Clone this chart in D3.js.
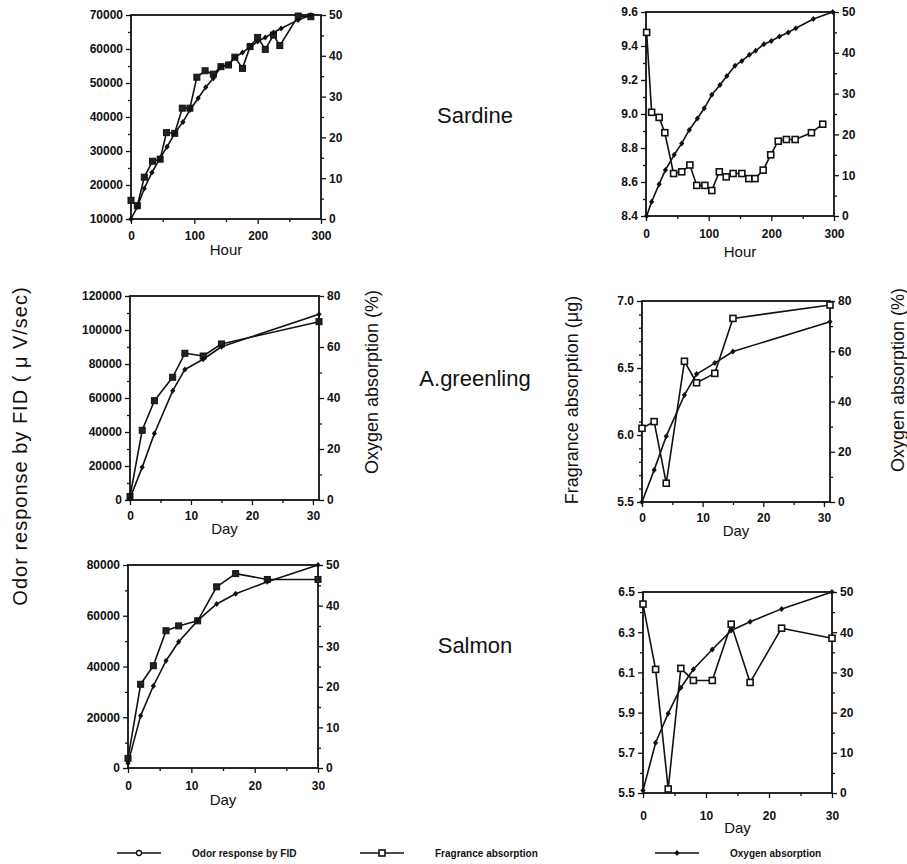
<!DOCTYPE html>
<html>
<head>
<meta charset="utf-8">
<script src="https://cdn.jsdelivr.net/npm/d3@7/dist/d3.min.js"></script>
<style>
  body { margin: 0; background: #fff; }
  svg { display: block; font-family: "Liberation Sans", Arial, Helvetica, sans-serif; }
  .tick text { font-weight: bold; font-size: 12px; fill: #111; }
  .tick line { stroke: #111; stroke-width: 1.3; }
  .domain { stroke: none; }
</style>
</head>
<body>
<svg id="chart" width="907" height="864"></svg>
<script>
// ---- data ----
// Sardine (hours)
var sardineOdorHour = [0, 10, 21, 34, 46, 56, 69, 81, 93, 104, 117, 130, 142, 154, 164, 176, 188, 200, 212, 225, 235, 264, 284];
var sardineOdor = [15500, 13900, 22300, 27000, 27600, 35400, 35200, 42600, 42600, 51700, 53600, 52600, 54800, 55300, 57600, 54300, 60700, 63400, 59900, 64100, 61000, 69700, 69500];
var sardineO2LeftHour = [0, 10, 21, 33, 46, 57, 69, 82, 93, 106, 118, 130, 142, 154, 164, 176, 188, 200, 212, 225, 237, 264, 284];
var sardineO2Left = [0, 3, 7.5, 11.4, 14.9, 17.7, 21, 23.8, 26.7, 29.6, 32.3, 34.5, 37.3, 37.9, 39.6, 40.8, 42.2, 43.5, 44.5, 45.7, 46.7, 48.8, 50];
var sardineFragHour = [1, 9, 21, 30, 44, 57, 70, 81, 94, 105, 117, 128, 139, 153, 164, 174, 187, 199, 211, 224, 238, 264, 282];
var sardineFrag = [9.48, 9.01, 8.98, 8.89, 8.65, 8.66, 8.70, 8.58, 8.58, 8.55, 8.66, 8.63, 8.65, 8.65, 8.62, 8.62, 8.67, 8.76, 8.84, 8.85, 8.85, 8.89, 8.94];
var sardineO2RightHour = [1, 9, 21, 31, 45, 57, 69, 82, 93, 105, 118, 129, 142, 153, 165, 175, 188, 200, 213, 227, 239, 267, 298];
var sardineO2Right = [0, 3.5, 7.8, 11.3, 15, 17.8, 21.1, 23.9, 26.4, 29.7, 32.1, 34.3, 36.8, 38, 39.5, 40.5, 42.1, 42.9, 44, 45, 46, 48.3, 50];

// A.greenling (days)
var greenlingDay = [0, 2, 4, 7, 9, 12, 15, 31];
var greenlingOdor = [2000, 41000, 58400, 72200, 86300, 84700, 91800, 104900];
var greenlingO2Left = [0.7, 12.8, 26.1, 42.8, 51.2, 55.2, 60.1, 72.8];
var greenlingFrag = [6.05, 6.10, 5.64, 6.55, 6.39, 6.46, 6.87, 6.97];
var greenlingO2Right = [0, 12.7, 26.2, 42.6, 50.9, 55.3, 59.9, 71.7];

// Salmon (days)
var salmonDay = [0, 2, 4, 6, 8, 11, 14, 17, 22, 30];
var salmonOdor = [3800, 33000, 40300, 54100, 56000, 58000, 71400, 76600, 74300, 74300];
var salmonO2Left = [1.2, 12.9, 20.2, 26.4, 31.1, 36.3, 40.4, 42.9, 45.9, 50];
var salmonFrag = [6.44, 6.115, 5.52, 6.12, 6.06, 6.06, 6.34, 6.05, 6.32, 6.27];
var salmonO2Right = [0.6, 12.5, 19.8, 26.2, 30.8, 35.7, 40.4, 42.6, 45.8, 50];

var fishNames = ["Sardine", "A.greenling", "Salmon"];
var legendLabels = ["Odor response by FID", "Fragrance absorption", "Oxygen absorption"];

// ---- layout ----
var svg = d3.select("#chart");

var panels = [
  { left: 131, right: 321, top: 15, bottom: 219, xDom: [0, 300], xMajor: [0, 100, 200, 300], xMinor: [50, 150, 250], xTitle: "Hour", labOff: 16, titleOff: 31,
    yDom: [10000, 70000], yMajor: d3.range(10000, 70001, 10000), yMinor: d3.range(15000, 70000, 10000), yFmt: d3.format("d"),
    rDom: [0, 50], rMajor: d3.range(0, 51, 10), rMinor: d3.range(5, 50, 10),
    series: [
      { x: sardineOdorHour, y: sardineOdor, axis: "l", mark: "odor" },
      { x: sardineO2LeftHour, y: sardineO2Left, axis: "r", mark: "oxy" }
    ] },
  { left: 646, right: 834, top: 12, bottom: 216, xDom: [0, 300], xMajor: [0, 100, 200, 300], xMinor: [50, 150, 250], xTitle: "Hour", labOff: 17, titleOff: 36,
    yDom: [8.4, 9.6], yMajor: [8.4, 8.6, 8.8, 9.0, 9.2, 9.4, 9.6], yMinor: [8.5, 8.7, 8.9, 9.1, 9.3, 9.5], yFmt: d3.format(".1f"),
    rDom: [0, 50], rMajor: d3.range(0, 51, 10), rMinor: d3.range(5, 50, 10),
    series: [
      { x: sardineFragHour, y: sardineFrag, axis: "l", mark: "frag" },
      { x: sardineO2RightHour, y: sardineO2Right, axis: "r", mark: "oxy" }
    ] },
  { left: 130, right: 319, top: 296, bottom: 500, xDom: [0, 31], xMajor: [0, 10, 20, 30], xMinor: [5, 15, 25], xTitle: "Day", labOff: 15, titleOff: 29,
    yDom: [0, 120000], yMajor: d3.range(0, 120001, 20000), yMinor: d3.range(10000, 120000, 20000), yFmt: d3.format("d"),
    rDom: [0, 80], rMajor: d3.range(0, 81, 20), rMinor: d3.range(10, 80, 20),
    series: [
      { x: greenlingDay, y: greenlingOdor, axis: "l", mark: "odor" },
      { x: greenlingDay, y: greenlingO2Left, axis: "r", mark: "oxy" }
    ] },
  { left: 642, right: 830, top: 301, bottom: 502, xDom: [0, 31], xMajor: [0, 10, 20, 30], xMinor: [5, 15, 25], xTitle: "Day", labOff: 15, titleOff: 29,
    yDom: [5.5, 7.0], yMajor: [5.5, 6.0, 6.5, 7.0], yMinor: [5.6, 5.7, 5.8, 5.9, 6.1, 6.2, 6.3, 6.4, 6.6, 6.7, 6.8, 6.9], yFmt: d3.format(".1f"),
    rDom: [0, 80], rMajor: d3.range(0, 81, 20), rMinor: d3.range(10, 80, 20),
    series: [
      { x: greenlingDay, y: greenlingFrag, axis: "l", mark: "frag" },
      { x: greenlingDay, y: greenlingO2Right, axis: "r", mark: "oxy" }
    ] },
  { left: 128, right: 318, top: 565, bottom: 768, xDom: [0, 30], xMajor: [0, 10, 20, 30], xMinor: [5, 15, 25], xTitle: "Day", labOff: 17, titleOff: 32,
    yDom: [0, 80000], yMajor: d3.range(0, 80001, 20000), yMinor: d3.range(10000, 80000, 20000), yFmt: d3.format("d"),
    rDom: [0, 50], rMajor: d3.range(0, 51, 10), rMinor: d3.range(5, 50, 10),
    series: [
      { x: salmonDay, y: salmonOdor, axis: "l", mark: "odor" },
      { x: salmonDay, y: salmonO2Left, axis: "r", mark: "oxy" }
    ] },
  { left: 643, right: 832, top: 592, bottom: 793, xDom: [0, 30], xMajor: [0, 10, 20, 30], xMinor: [5, 15, 25], xTitle: "Day", labOff: 22, titleOff: 35,
    yDom: [5.5, 6.5], yMajor: [5.5, 5.7, 5.9, 6.1, 6.3, 6.5], yMinor: [5.6, 5.8, 6.0, 6.2, 6.4], yFmt: d3.format(".1f"),
    rDom: [0, 50], rMajor: d3.range(0, 51, 10), rMinor: d3.range(5, 50, 10),
    series: [
      { x: salmonDay, y: salmonFrag, axis: "l", mark: "frag" },
      { x: salmonDay, y: salmonO2Right, axis: "r", mark: "oxy" }
    ] }
];

function drawMarker(sel, kind) {
  if (kind === "odor") {
    // scanned odor markers read as dark squares
    sel.append("rect").attr("x", -3).attr("y", -3).attr("width", 6).attr("height", 6)
      .attr("fill", "#222").attr("stroke", "#111").attr("stroke-width", 1);
  } else if (kind === "frag") {
    sel.append("rect").attr("x", -3).attr("y", -3).attr("width", 6).attr("height", 6)
      .attr("fill", "#fff").attr("stroke", "#111").attr("stroke-width", 1.6);
  } else {
    sel.append("path").attr("d", "M0,-3L2.6,0L0,3L-2.6,0Z").attr("fill", "#111");
  }
}

panels.forEach(function (p) {
  var x = d3.scaleLinear().domain(p.xDom).range([p.left, p.right]),
      yl = d3.scaleLinear().domain(p.yDom).range([p.bottom, p.top]),
      yr = d3.scaleLinear().domain(p.rDom).range([p.bottom, p.top]);

  var g = svg.append("g");

  // minor ticks
  g.append("g").attr("transform", "translate(0," + p.bottom + ")")
    .call(d3.axisBottom(x).tickValues(p.xMinor).tickSize(3).tickSizeOuter(0).tickFormat(""));
  g.append("g").attr("transform", "translate(" + p.left + ",0)")
    .call(d3.axisLeft(yl).tickValues(p.yMinor).tickSize(3).tickSizeOuter(0).tickFormat(""));
  g.append("g").attr("transform", "translate(" + p.right + ",0)")
    .call(d3.axisRight(yr).tickValues(p.rMinor).tickSize(3).tickSizeOuter(0).tickFormat(""));

  // major ticks + labels
  g.append("g").attr("transform", "translate(0," + p.bottom + ")")
    .call(d3.axisBottom(x).tickValues(p.xMajor).tickSize(5).tickSizeOuter(0).tickPadding(p.labOff - 9));
  g.append("g").attr("transform", "translate(" + p.left + ",0)")
    .call(d3.axisLeft(yl).tickValues(p.yMajor).tickFormat(p.yFmt).tickSize(5).tickSizeOuter(0).tickPadding(3));
  g.append("g").attr("transform", "translate(" + p.right + ",0)")
    .call(d3.axisRight(yr).tickValues(p.rMajor).tickFormat(d3.format("d")).tickSize(5).tickSizeOuter(0).tickPadding(3));

  // frame
  g.append("rect")
    .attr("x", p.left).attr("y", p.top)
    .attr("width", p.right - p.left).attr("height", p.bottom - p.top)
    .attr("fill", "none").attr("stroke", "#111").attr("stroke-width", 1.8);

  // x title
  g.append("text")
    .attr("x", (p.left + p.right) / 2).attr("y", p.bottom + p.titleOff)
    .attr("dy", "0.35em").attr("text-anchor", "middle")
    .style("font-size", "15px").attr("fill", "#111")
    .text(p.xTitle);

  // series
  p.series.forEach(function (s) {
    var ys = s.axis === "l" ? yl : yr;
    var pts = d3.zip(s.x, s.y);
    var line = d3.line()
      .x(function (d) { return x(d[0]); })
      .y(function (d) { return ys(d[1]); });
    g.append("path")
      .attr("d", line(pts))
      .attr("fill", "none").attr("stroke", "#111").attr("stroke-width", 1.6)
      .attr("stroke-linejoin", "round");
    g.selectAll(null).data(pts).enter().append("g")
      .attr("transform", function (d) { return "translate(" + x(d[0]) + "," + ys(d[1]) + ")"; })
      .each(function () { drawMarker(d3.select(this), s.mark); });
  });
});

// fish names
var nameY = [115, 378, 645];
fishNames.forEach(function (n, i) {
  svg.append("text")
    .attr("x", 475).attr("y", nameY[i]).attr("dy", "0.35em")
    .attr("text-anchor", "middle").style("font-size", "22px").attr("fill", "#111")
    .text(n);
});

// vertical axis titles
var vTitles = [
  { x: 20, y: 446, size: 20, spacing: 1, text: "Odor response by FID ( \u03bc V/sec)" },
  { x: 372, y: 382, size: 18, spacing: 0, text: "Oxygen absorption (%)" },
  { x: 572, y: 400, size: 18, spacing: 0, text: "Fragrance absorption (\u03bcg)" },
  { x: 898, y: 380, size: 18, spacing: 0, text: "Oxygen absorption (%)" }
];
vTitles.forEach(function (t) {
  svg.append("text")
    .attr("transform", "translate(" + t.x + "," + t.y + ") rotate(-90)")
    .attr("dy", "0.35em").attr("text-anchor", "middle")
    .style("font-size", t.size + "px").style("letter-spacing", t.spacing + "px").attr("fill", "#111")
    .text(t.text);
});

// legend
var legendX = [117, 360, 655],
    legendMarks = ["odor", "frag", "oxy"];
legendLabels.forEach(function (l, i) {
  var lg = svg.append("g").attr("transform", "translate(" + legendX[i] + ",853)");
  lg.append("line").attr("x1", 0).attr("x2", 44).attr("y1", 0).attr("y2", 0)
    .attr("stroke", "#111").attr("stroke-width", 1.3);
  var m = lg.append("g").attr("transform", "translate(22,0)");
  if (legendMarks[i] === "odor") {
    m.append("circle").attr("r", 2.5).attr("fill", "#fff").attr("stroke", "#111").attr("stroke-width", 1.3);
  } else {
    drawMarker(m, legendMarks[i]);
  }
  lg.append("text").attr("x", 75).attr("dy", "0.35em")
    .style("font-size", "10px").style("font-weight", "bold").attr("fill", "#111")
    .text(l);
});
</script>
</body>
</html>
